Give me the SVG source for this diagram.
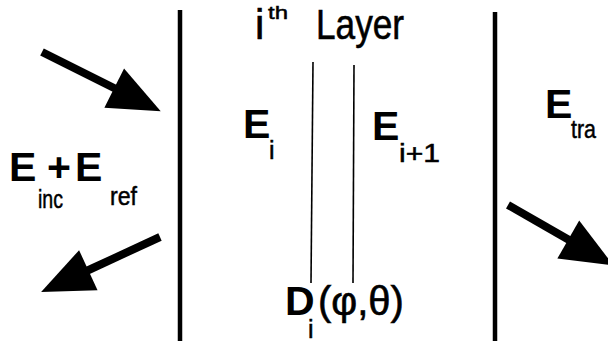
<svg xmlns="http://www.w3.org/2000/svg" width="608" height="345" viewBox="0 0 608 345">
<style>
.b{font-family:"Liberation Sans",Arial,Helvetica,sans-serif;font-weight:bold;font-size:41px;fill:#000}
.r{font-family:"Liberation Sans",Arial,Helvetica,sans-serif;font-size:25px;fill:#000;stroke:#000;stroke-width:0.5}
.big{font-family:"Liberation Sans",Arial,Helvetica,sans-serif;font-size:42px;fill:#000;stroke:#000;stroke-width:0.6}
.thick{stroke:#000;stroke-width:4.5;fill:none}
.thin{stroke:#000;stroke-width:1.6;fill:none}
.arr{stroke:#000;stroke-width:8;fill:none;marker-end:url(#head)}
</style>
<defs>
<marker id="head" markerUnits="userSpaceOnUse" markerWidth="60" markerHeight="50" viewBox="0 -25 60 50" refX="2" refY="0" orient="auto" overflow="visible">
<path d="M0,-22 L52,0 L0,22 z" fill="#000"/>
</marker>
</defs>
<rect width="608" height="345" fill="#fff"/>
<g id="boundary-left"><line class="thick" x1="180" y1="10" x2="180" y2="341"/></g>
<g id="boundary-right"><line class="thick" x1="495" y1="12" x2="495" y2="341"/></g>
<g id="layer-planes">
<line class="thin" x1="313" y1="62" x2="311" y2="283"/>
<line class="thin" x1="354" y1="65" x2="353" y2="283"/>
</g>
<g id="title"><text class="big" x="255" y="39">i</text><text class="r" x="268" y="19" style="font-size:19px" textLength="20" lengthAdjust="spacingAndGlyphs">th</text><text class="big" x="316" y="39" textLength="88" lengthAdjust="spacingAndGlyphs">Layer</text></g>
<g id="label-inc-ref">
<text class="b" x="9" y="181">E</text><text class="r" x="38" y="208" textLength="25" lengthAdjust="spacingAndGlyphs">inc</text>
<text class="b" x="47" y="181">+</text>
<text class="b" x="75" y="181">E</text><text class="r" x="110" y="205" textLength="27" lengthAdjust="spacingAndGlyphs">ref</text>
</g>
<g id="label-Ei"><text class="b" x="243" y="138">E</text><text class="r" x="269" y="159">i</text></g>
<g id="label-Ei1"><text class="b" x="372" y="140">E</text><text class="r" x="399" y="162" textLength="41" lengthAdjust="spacingAndGlyphs">i+1</text></g>
<g id="label-Etra"><text class="b" x="545" y="118">E</text><text class="r" x="571" y="138" textLength="25" lengthAdjust="spacingAndGlyphs">tra</text></g>
<g id="label-D"><text class="b" x="285" y="315">D</text><text class="r" x="308" y="338">i</text><text class="big" x="318" y="315" style="font-size:40px">(φ,θ)</text></g>
<g id="connectors">
<line class="arr" x1="42" y1="52" x2="116" y2="89"/>
<line class="arr" x1="160" y1="237" x2="86.5" y2="271"/>
<line class="arr" x1="508" y1="205" x2="570" y2="240.5"/>
</g>
</svg>
